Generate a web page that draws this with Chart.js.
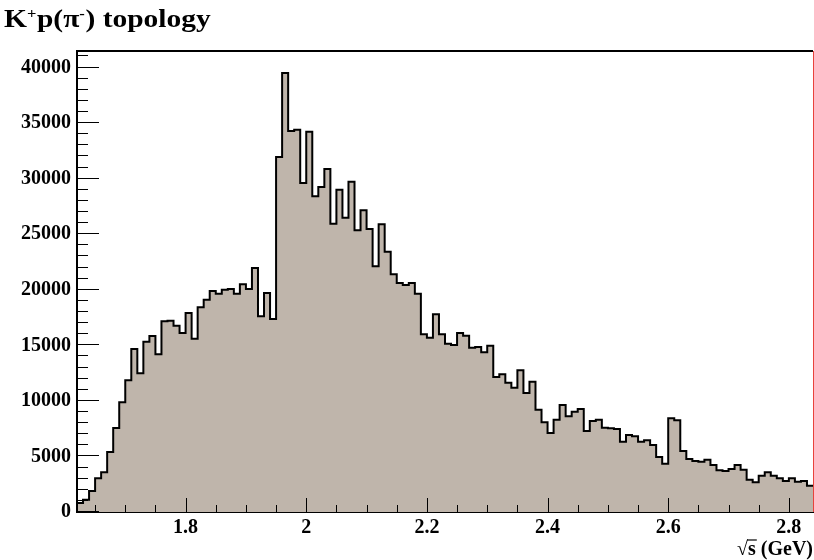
<!DOCTYPE html>
<html>
<head>
<meta charset="utf-8">
<script src="https://cdn.jsdelivr.net/npm/chart.js@4.4.1/dist/chart.umd.min.js"></script>
<style>
html, body { margin: 0; padding: 0; background: #ffffff; }
#wrap { width: 814px; height: 560px; position: relative; }
</style>
</head>
<body>
<div id="wrap"><canvas id="c" width="814" height="560"></canvas></div>
<script>
// ---- data ----
const binLow = 1.62;      // low edge of first bin (GeV)
const binWidth = 0.01;    // bin width (GeV)
const counts = [
  810, 1110, 1890, 3030, 3570, 5400, 7560, 9870, 11850, 14670,
  12480, 15330, 15840, 14190, 17160, 17220, 16770, 16110, 17910, 15600,
  18420, 19110, 19890, 19650, 20010, 20070, 19650, 20490, 20070, 21960,
  17610, 19710, 17370, 31950, 39510, 34290, 34410, 29610, 34230, 28410,
  29250, 30870, 25950, 29010, 26490, 29730, 25350, 27150, 25470, 22110,
  25890, 23430, 21390, 20610, 20430, 20610, 19650, 15990, 15690, 17790,
  15990, 15150, 15030, 16110, 15870, 14790, 14850, 14370, 14970, 12150,
  12390, 11640, 11190, 12750, 10710, 11730, 9210, 8070, 7110, 8310,
  9630, 8610, 9030, 9270, 7290, 8190, 8310, 7590, 7530, 7470,
  6330, 6930, 6810, 6330, 6450, 6030, 4950, 4350, 8430, 8250,
  5490, 4770, 4590, 4530, 4710, 4230, 3750, 3690, 3870, 4230,
  3810, 2910, 2670, 3270, 3570, 3270, 3030, 2790, 3030, 2730,
  2790, 2370
];
const xTickValues = [1.8, 2.0, 2.2, 2.4, 2.6, 2.8];
const xTickLabels = ['1.8', '2', '2.2', '2.4', '2.6', '2.8'];
const yTickValues = [0, 5000, 10000, 15000, 20000, 25000, 30000, 35000, 40000];
const yTickLabels = ['0', '5000', '10000', '15000', '20000', '25000', '30000', '35000', '40000'];
const xMinorTicks = [1.65, 1.7, 1.75, 1.85, 1.9, 1.95, 2.05, 2.1, 2.15, 2.25, 2.3, 2.35, 2.45, 2.5, 2.55, 2.65, 2.7, 2.75];
const yMinorTicks = [1000,2000,3000,4000,6000,7000,8000,9000,11000,12000,13000,14000,16000,17000,18000,19000,21000,22000,23000,24000,26000,27000,28000,29000,31000,32000,33000,34000,36000,37000,38000,39000,41000];
const xRange = [1.62, 2.84];
const yRange = [0, 41490];
const titleParts = [['K', false], ['+', true], ['p(π', false], ['-', true], [') topology', false]];
const xTitle = ['√', 's', ' (GeV)'];

// ---- build histogram points (step outline through bin low edges) ----
const points = [{ x: binLow, y: 0 }];
counts.forEach((c, i) => points.push({ x: +(binLow + i * binWidth).toFixed(2), y: c }));
points.push({ x: +(binLow + counts.length * binWidth).toFixed(2), y: counts[counts.length - 1] });

const SERIF = '"Liberation Serif", "Times New Roman", "DejaVu Serif", serif';

const rootFrame = {
  id: 'rootFrame',
  afterDatasetsDraw(chart) {
    const { ctx, chartArea: a, scales: { x, y } } = chart;
    ctx.save();
    ctx.strokeStyle = '#000';
    ctx.lineWidth = 1;
    ctx.beginPath();
    yTickValues.forEach(v => { const py = Math.round(y.getPixelForValue(v)) - 0.5; ctx.moveTo(a.left, py); ctx.lineTo(a.left + 22, py); });
    yMinorTicks.forEach(v => { const py = Math.round(y.getPixelForValue(v)) - 0.5; ctx.moveTo(a.left, py); ctx.lineTo(a.left + 11, py); });
    xTickValues.forEach(v => { const px = Math.round(x.getPixelForValue(v)) + 0.5; ctx.moveTo(px, a.bottom); ctx.lineTo(px, a.bottom - 14); });
    xMinorTicks.forEach(v => { const px = Math.round(x.getPixelForValue(v)) + 0.5; ctx.moveTo(px, a.bottom); ctx.lineTo(px, a.bottom - 7); });
    ctx.stroke();
    // top frame
    ctx.lineWidth = 2;
    ctx.beginPath(); ctx.moveTo(a.left - 1, a.top); ctx.lineTo(a.right, a.top); ctx.stroke();
    // right frame (red in reference)
    ctx.strokeStyle = '#e8423c';
    ctx.lineWidth = 1;
    ctx.beginPath(); ctx.moveTo(a.right + 0.5, a.top); ctx.lineTo(a.right + 0.5, a.bottom); ctx.stroke();
    ctx.restore();
  },
  afterDraw(chart) {
    const { ctx, chartArea: a } = chart;
    ctx.save();
    ctx.fillStyle = '#000';
    ctx.textBaseline = 'alphabetic';
    ctx.textAlign = 'left';
    // main title with superscripts (slightly wide face, as in reference)
    ctx.save();
    ctx.translate(4, 27);
    ctx.scale(1.18, 1);
    let tx = 0;
    titleParts.forEach(([t, sup]) => {
      ctx.font = sup ? 'bold 14px ' + SERIF : 'bold 25px ' + SERIF;
      ctx.fillText(t, tx, sup ? -9 : 0);
      tx += ctx.measureText(t).width + (sup ? 0.5 : 0);
    });
    ctx.restore();
    // x-axis title, right aligned to frame
    ctx.font = 'bold 20px ' + SERIF;
    const w0 = ctx.measureText(xTitle[0]).width, w1 = ctx.measureText(xTitle[1]).width, w2 = ctx.measureText(xTitle[2]).width;
    const xb = 555;
    const sx = a.right - (w0 + w1 + w2);
    ctx.fillText(xTitle[0], sx, xb);
    ctx.fillText(xTitle[1], sx + w0, xb);
    ctx.fillText(xTitle[2], sx + w0 + w1, xb);
    ctx.lineWidth = 1.2;
    ctx.beginPath(); ctx.moveTo(sx + w0 - 1, xb - 15); ctx.lineTo(sx + w0 + w1 + 1, xb - 15); ctx.stroke();
    ctx.restore();
  }
};

new Chart(document.getElementById('c'), {
  type: 'line',
  data: {
    datasets: [{
      data: points,
      stepped: 'before',
      fill: 'origin',
      backgroundColor: '#bfb5ab',
      borderColor: '#000000',
      borderWidth: 2,
      pointRadius: 0,
      tension: 0
    }]
  },
  options: {
    responsive: false,
    animation: false,
    devicePixelRatio: 1,
    layout: { padding: { top: 51, right: 1, left: 0, bottom: 0 } },
    plugins: { legend: { display: false }, title: { display: false }, tooltip: { enabled: false } },
    scales: {
      x: {
        type: 'linear',
        min: xRange[0], max: xRange[1],
        grid: { display: false, drawTicks: false },
        border: { display: true, color: '#000', width: 2 },
        afterBuildTicks: s => { s.ticks = xTickValues.map(v => ({ value: v })); },
        afterFit: s => { s.height = 48; },
        ticks: {
          autoSkip: false, maxRotation: 0, padding: 4, color: '#000',
          font: { family: SERIF, size: 20, weight: 'bold' },
          callback: (v, i) => xTickLabels[i]
        }
      },
      y: {
        type: 'linear',
        min: yRange[0], max: yRange[1],
        grid: { display: false, drawTicks: false },
        border: { display: true, color: '#000', width: 2 },
        afterBuildTicks: s => { s.ticks = yTickValues.map(v => ({ value: v })); },
        afterFit: s => { s.width = 77; },
        ticks: {
          padding: 6, color: '#000',
          font: { family: SERIF, size: 20, weight: 'bold' },
          callback: (v, i) => yTickLabels[i]
        }
      }
    }
  },
  plugins: [rootFrame]
});
</script>
</body>
</html>
